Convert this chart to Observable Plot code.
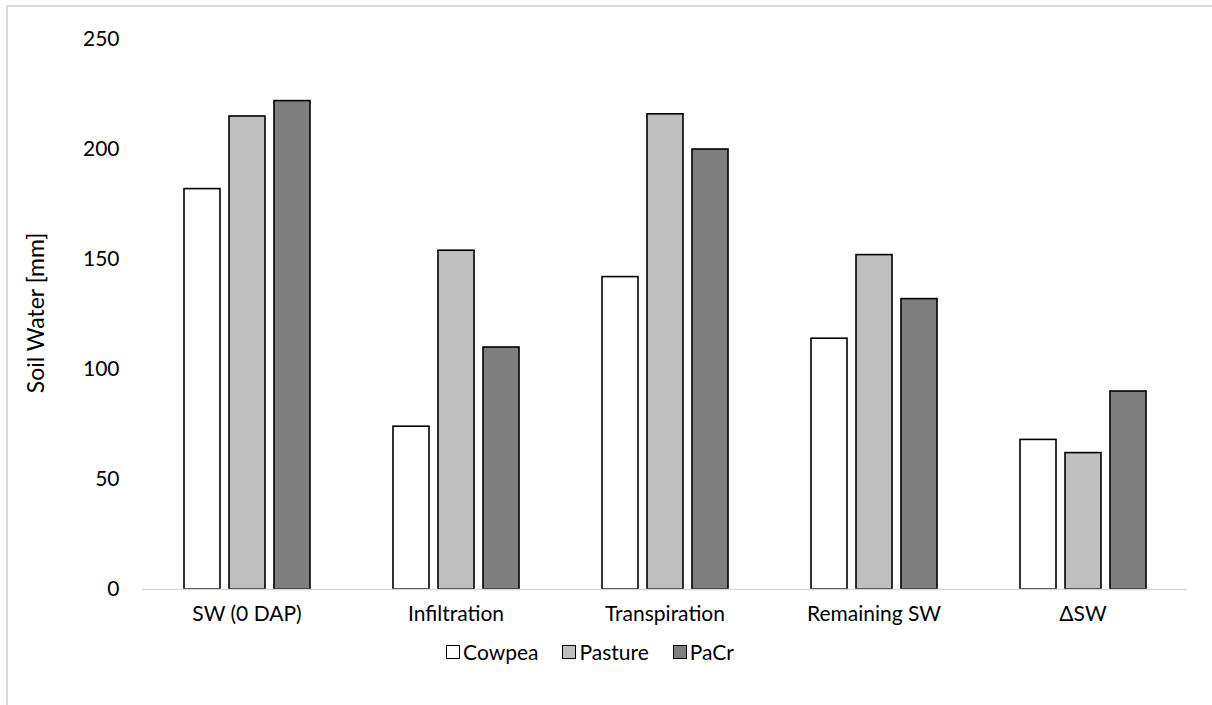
<!DOCTYPE html>
<html>
<head>
<meta charset="utf-8">
<script src="https://cdn.jsdelivr.net/npm/d3@7"></script>
<script src="https://cdn.jsdelivr.net/npm/@observablehq/plot@0.6"></script>
<style>
  html, body { margin: 0; padding: 0; background: #fff; }
  #frame { position: absolute; left: 6px; top: 5px; width: 1220px; height: 720px;
           border-top: 2px solid #d9d9d9; border-left: 2px solid #d9d9d9; box-sizing: border-box; }
  #chart { position: absolute; left: 0; top: 0; }
  #ytitle { position: absolute; left: 35px; top: 313px; transform: translate(-50%, -50%) rotate(-90deg);
            white-space: nowrap; font-family: Lato, sans-serif; font-size: 23px; color: #000; }
  #legend { position: absolute; left: 0; width: 1180px; top: 638px; display: flex; justify-content: center; align-items: center;
            font-family: Lato, sans-serif; font-size: 21px; color: #000; line-height: 28px; }
  .item { display: flex; align-items: center; margin: 0 12px; }
  .sw { width: 14px; height: 14px; border: 1.5px solid #000; margin-right: 3px; box-sizing: border-box; }
</style>
</head>
<body>
<div id="frame"></div>
<div id="chart"></div>
<div id="ytitle"></div>
<div id="legend"></div>
<script>
const categories = ["SW (0 DAP)", "Infiltration", "Transpiration", "Remaining SW", "ΔSW"];
const seriesNames = ["Cowpea", "Pasture", "PaCr"];
const seriesColors = ["#ffffff", "#bfbfbf", "#7f7f7f"];
const cowpea  = [182, 74, 142, 114, 68];
const pasture = [215, 154, 216, 152, 62];
const pacr    = [222, 110, 200, 132, 90];
const yTicks = [0, 50, 100, 150, 200, 250];
const yTitle = "Soil Water [mm]";

const seriesValues = [cowpea, pasture, pacr];
const data = [];
categories.forEach((c, i) => {
  seriesNames.forEach((s, j) => data.push({category: c, series: s, value: seriesValues[j][i]}));
});

const chart = Plot.plot({
  width: 1212,
  height: 640,
  marginLeft: 140,
  marginRight: 23,
  marginTop: 39,
  marginBottom: 51,
  style: {fontFamily: "Lato, sans-serif", fontSize: "21px", color: "#000", background: "transparent"},
  fx: {domain: categories, padding: 0, label: null, axis: null},
  x: {domain: seriesNames, paddingInner: 0.2, paddingOuter: 0.88, axis: null},
  y: {domain: [0, 250], ticks: yTicks, label: null},
  color: {domain: seriesNames, range: seriesColors},
  marks: [
    Plot.barY(data, {fx: "category", x: "series", y: "value", fill: "series", stroke: "#000", strokeWidth: 1.6}),
    Plot.ruleY([0], {stroke: "#d9d9d9", strokeWidth: 1.5}),
    Plot.axisY({ticks: yTicks, tickSize: 0, tickPadding: 23, fontSize: 21, label: null}),
    Plot.text(categories, {fx: d => d, frameAnchor: "bottom", dy: 31, text: d => d, fontSize: 21, fill: "#000"})
  ]
});
document.getElementById("chart").appendChild(chart);
document.getElementById("ytitle").textContent = yTitle;

const legend = document.getElementById("legend");
seriesNames.forEach((s, i) => {
  const item = document.createElement("div");
  item.className = "item";
  const sw = document.createElement("span");
  sw.className = "sw";
  sw.style.background = seriesColors[i];
  const t = document.createElement("span");
  t.textContent = s;
  item.appendChild(sw); item.appendChild(t);
  legend.appendChild(item);
});
</script>
</body>
</html>
